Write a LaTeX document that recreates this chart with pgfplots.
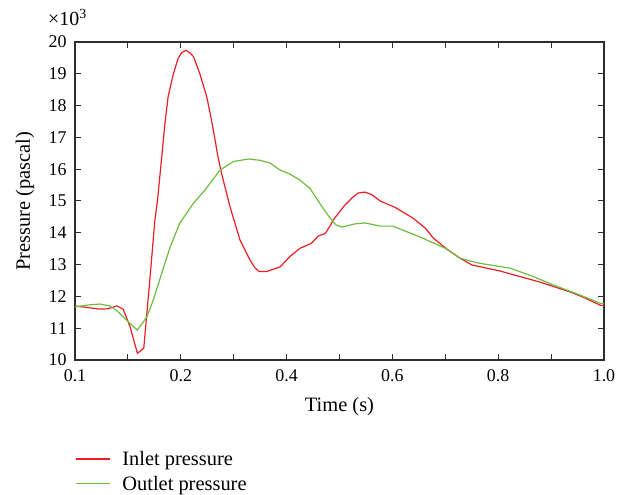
\documentclass[border=0pt]{standalone}
\usepackage{fontspec}
\setmainfont{Liberation Serif}
\usepackage{pgfplots}
\pgfplotsset{compat=1.18}
\definecolor{inred}{RGB}{235,30,35}
\definecolor{outgreen}{RGB}{108,190,60}
\definecolor{axgray}{RGB}{45,45,45}
\begin{document}
\begin{tikzpicture}
\begin{axis}[
  scale only axis, width=529bp, height=318bp,
  xmin=0, xmax=1, ymin=10, ymax=20,
  xtick={0,0.2,0.4,0.6,0.8,1}, xticklabels={0.1,0.2,0.4,0.6,0.8,1.0},
  minor xtick={0.1,0.3,0.5,0.7,0.9},
  ytick={10,11,...,20},
  tick align=inside, major tick length=6bp, minor tick length=6bp,
  axis line style={axgray, line width=1.3bp},
  tick style={axgray, line width=1bp},
  /pgf/number format/assume math mode=true,
  tick label style={font=\fontsize{18}{18}\selectfont, text=black},
  xticklabel style={yshift=-6bp},
  yticklabel style={xshift=-5bp},
  label style={font=\fontsize{20.5}{20.5}\selectfont},
  xlabel={Time (s)}, ylabel={Pressure (pascal)},
  xlabel style={at={(axis description cs:0.5,-0.148)}, anchor=center},
  ylabel style={at={(axis description cs:-0.0945,0.5)}, anchor=center},
  legend style={at={(axis description cs:0,-0.28)}, anchor=north west, draw=none, fill=none,
    font=\fontsize{20.5}{20.5}\selectfont, row sep=5bp, column sep=10bp, inner sep=0pt},
  legend cell align=left,
  legend image code/.code={\draw[#1] (0bp,0bp) -- (34bp,0bp);},
]
\coordinate (sw) at (rel axis cs:0,0);
\coordinate (ne) at (rel axis cs:1,1);
\addplot[inred, line width=1.2bp] coordinates {
(0,11.70) (0.047,11.60) (0.062,11.61) (0.079,11.70) (0.091,11.60) (0.104,11.05)
(0.118,10.21) (0.130,10.37) (0.142,12.62) (0.151,14.4) (0.156,15.03) (0.164,16.39)
(0.170,17.44) (0.176,18.28) (0.186,19.0) (0.195,19.49) (0.202,19.67) (0.210,19.74)
(0.217,19.66) (0.224,19.54) (0.236,19.0) (0.249,18.28) (0.258,17.55) (0.267,16.71)
(0.269,16.5) (0.277,15.87) (0.293,14.82) (0.312,13.77) (0.331,13.14) (0.340,12.9)
(0.348,12.78) (0.362,12.78) (0.388,12.93) (0.406,13.25) (0.425,13.51) (0.447,13.67)
(0.460,13.9) (0.473,13.98) (0.482,14.21) (0.488,14.40) (0.510,14.87) (0.524,15.1)
(0.535,15.25) (0.548,15.28) (0.561,15.2) (0.577,15.0) (0.605,14.8) (0.639,14.46)
(0.662,14.15) (0.677,13.84) (0.705,13.46) (0.728,13.2) (0.750,12.99) (0.803,12.8)
(0.879,12.45) (0.936,12.14) (0.960,11.98) (0.992,11.73) (1.0,11.70)
};
\addlegendentry{Inlet pressure}
\addplot[outgreen, line width=1.2bp] coordinates {
(0,11.67) (0.025,11.73) (0.047,11.76) (0.066,11.70) (0.079,11.55) (0.104,11.15)
(0.118,10.94) (0.136,11.36) (0.148,11.89) (0.164,12.73) (0.180,13.56) (0.198,14.3)
(0.224,14.93) (0.246,15.35) (0.274,15.97) (0.299,16.24) (0.328,16.32) (0.350,16.28)
(0.369,16.19) (0.388,15.97) (0.406,15.85) (0.425,15.66) (0.444,15.4) (0.469,14.77)
(0.482,14.47) (0.493,14.25) (0.505,14.18) (0.529,14.28) (0.548,14.31) (0.577,14.21)
(0.601,14.21) (0.652,13.87) (0.703,13.49) (0.728,13.2) (0.762,13.05) (0.822,12.89)
(0.864,12.64) (0.904,12.36) (0.955,12.04) (0.992,11.79) (1.0,11.77)
};
\addlegendentry{Outlet pressure}
\end{axis}
\node[anchor=base west, font=\fontsize{20}{20}\selectfont, inner sep=0pt] at ([shift={(-27bp,16bp)}]sw |- ne) {×10\textsuperscript{3}};
\pgfresetboundingbox
\path[use as bounding box] ([shift={(-75bp,-135bp)}]sw) rectangle ([shift={(26bp,42bp)}]ne);
\end{tikzpicture}
\end{document}
